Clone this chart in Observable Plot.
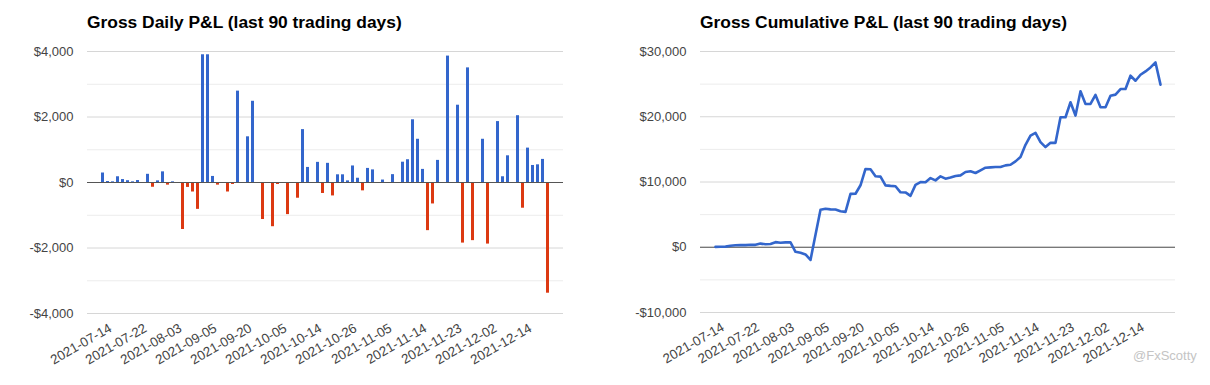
<!DOCTYPE html>
<html>
<head>
<meta charset="utf-8">
<script src="https://cdn.jsdelivr.net/npm/d3@7"></script>
<script src="https://cdn.jsdelivr.net/npm/@observablehq/plot@0.6"></script>
<style>
  html, body { margin: 0; padding: 0; background: #fff; }
  #wrap { position: relative; width: 1210px; height: 385px; font-family: "Liberation Sans", Arial, sans-serif; overflow: hidden; }
  .title { position: absolute; top: 12px; font-size: 17.4px; font-weight: bold; color: #000; line-height: 20px; white-space: nowrap; }
  .panel { position: absolute; top: 40px; }
  #mark { position: absolute; left: 1133px; top: 348px; font-size: 13px; color: #c4c4c4; white-space: nowrap; }
</style>
</head>
<body>
<div id="wrap">
  <div class="title" style="left:87px">Gross Daily P&amp;L (last 90 trading days)</div>
  <div class="title" style="left:700px">Gross Cumulative P&amp;L (last 90 trading days)</div>
  <div class="panel" id="left" style="left:0px"></div>
  <div class="panel" id="right" style="left:605px"></div>
  <div id="mark">@FxScotty</div>
</div>
<script>
// ---- Data ----
// Daily gross P&L, 90 trading days (oldest first)
const dailyPnl = [
  290, 30, 20, 175, 90, 55, 20, 60, -30, 250,
  -145, 50, 325, -80, 20, 0, -1435, -150, -290, -820,
  3900, 3900, 185, -80, 0, -290, -60, 2790, 0, 1395,
  2480, 0, -1130, 0, -1350, -60, 0, -980, 0, -480,
  1615, 460, 0, 615, -335, 585, -410, 235, 235, 50,
  505, 130, -255, 430, 385, 0, 75, 0, 240, 0,
  620, 695, 1915, 1320, 400, -1470, -655, 675, 0, 3860,
  0, 2360, -1850, 3500, -1775, 0, 1320, -1880, 0, 1860,
  175, 815, 0, 2040, -785, 1050, 520, 540, 705, -3380
];
// Cumulative gross P&L as drawn in the right chart
const cumulativePnl = [
  60, 80, 100, 230, 300, 340, 330, 380, 370, 560,
  450, 500, 780, 700, 740, 760, -700, -840, -1100, -1950,
  1900, 5750, 5900, 5800, 5780, 5520, 5420, 8180, 8200, 9500,
  12000, 11950, 10880, 10830, 9480, 9400, 9350, 8420, 8400, 7880,
  9560, 9980, 9960, 10600, 10250, 10870, 10510, 10680, 10920, 11020,
  11530, 11640, 11380, 11790, 12190, 12240, 12290, 12290, 12550, 12650,
  13160, 13820, 15700, 17120, 17530, 16110, 15350, 16000, 16000, 19920,
  19920, 22220, 20180, 23900, 21960, 21960, 23340, 21450, 21450, 23230,
  23390, 24250, 24250, 26290, 25520, 26440, 26950, 27560, 28320, 24920
];
// Category axis tick labels and the day index they sit on
const tickLabels = [
  "2021-07-14", "2021-07-22", "2021-08-03", "2021-09-05", "2021-09-20",
  "2021-10-05", "2021-10-14", "2021-10-26", "2021-11-05", "2021-11-14",
  "2021-11-23", "2021-12-02", "2021-12-14"
];
const tickDays = [0, 7, 14, 21, 28, 35, 42, 49, 56, 63, 70, 77, 84];
const dailyTicksMajor = [-4000, -2000, 0, 2000, 4000];
const dailyTicksMinor = [-3000, -1000, 1000, 3000];
const cumTicksMajor = [-10000, 0, 10000, 20000, 30000];
const cumTicksMinor = [-5000, 5000, 15000, 25000];

// ---- Build ----
const BLUE = "#3366cc", RED = "#dc3912";
const days = d3.range(dailyPnl.length);
const dailyRows = days.map(i => ({day: i, pnl: dailyPnl[i]}));
const cumRows = days.map(i => ({day: i, pnl: cumulativePnl[i]}));
const labelOf = new Map(tickDays.map((d, k) => [d, tickLabels[k]]));
const money = v => (v < 0 ? "-" : "") + "$" + d3.format(",")(Math.abs(v));
const font = {fontFamily: "'Liberation Sans', Arial, sans-serif", fontSize: "13px", color: "#444", background: "#fff", overflow: "visible"};

const xLabels = () => Plot.text(tickDays, {
  x: d => d, text: d => labelOf.get(d),
  frameAnchor: "bottom", rotate: -30, textAnchor: "end", lineAnchor: "top",
  dx: 5, dy: 9, fontSize: 13.3, fill: "#444"
});

const left = Plot.plot({
  width: 605, height: 345,
  marginLeft: 87, marginRight: 42, marginTop: 11, marginBottom: 72,
  style: font,
  x: {type: "band", domain: days, paddingInner: 0.48, paddingOuter: 0.25, axis: null},
  y: {domain: [-4000, 4000], axis: null},
  marks: [
    Plot.ruleY(dailyTicksMinor, {stroke: "#ececec"}),
    Plot.ruleY(dailyTicksMajor, {stroke: "#d6d6d6"}),
    Plot.barY(dailyRows, {filter: d => d.pnl >= 0, x: "day", y: "pnl", fill: BLUE}),
    Plot.barY(dailyRows, {filter: d => d.pnl < 0, x: "day", y: "pnl", fill: RED}),
    Plot.ruleY([0], {stroke: "#555"}),
    Plot.axisY(dailyTicksMajor, {label: null, tickSize: 0, tickPadding: 14, tickFormat: money, fill: "#444", fontSize: 13}),
    xLabels()
  ]
});
document.getElementById("left").append(left);

const right = Plot.plot({
  width: 605, height: 345,
  marginLeft: 95, marginRight: 35, marginTop: 11, marginBottom: 73,
  style: font,
  x: {type: "point", domain: days, padding: 0.5, axis: null},
  y: {domain: [-10000, 30000], axis: null},
  marks: [
    Plot.ruleY(cumTicksMinor, {stroke: "#ececec"}),
    Plot.ruleY(cumTicksMajor, {stroke: "#d6d6d6"}),
    Plot.ruleY([0], {stroke: "#555"}),
    Plot.line(cumRows, {x: "day", y: "pnl", stroke: BLUE, strokeWidth: 2.6, strokeLinejoin: "round"}),
    Plot.axisY(cumTicksMajor, {label: null, tickSize: 0, tickPadding: 14, tickFormat: money, fill: "#444", fontSize: 13}),
    xLabels()
  ]
});
document.getElementById("right").append(right);
</script>
</body>
</html>
